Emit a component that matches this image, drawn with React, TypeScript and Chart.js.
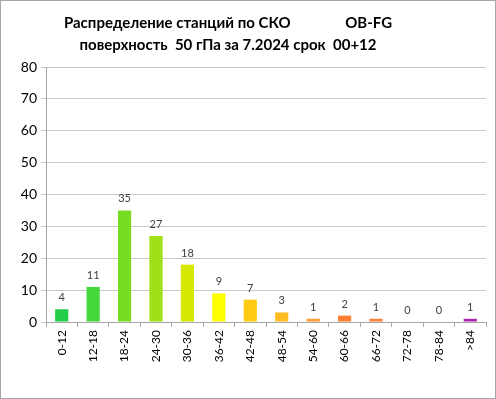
import React, { useEffect, useRef } from "react";
import { Chart, registerables } from "chart.js";

Chart.register(...registerables);

const categories = ["0-12", "12-18", "18-24", "24-30", "30-36", "36-42", "42-48", "48-54", "54-60", "60-66", "66-72", "72-78", "78-84", ">84"];
const counts = [4, 11, 35, 27, 18, 9, 7, 3, 1, 2, 1, 0, 0, 1];
const barColors = ["#22cc44", "#44d63a", "#77dd22", "#a0e016", "#d6e800", "#ffff00", "#ffcc11", "#ffbb22", "#ff9a30", "#ff7f30", "#ff7f30", "#ff7f30", "#ff7f30", "#aa22aa"];
const yTicks = [0, 10, 20, 30, 40, 50, 60, 70, 80];
const titleLines = ["Распределение станций по СКО               OB-FG", "поверхность  50 гПа за 7.2024 срок  00+12"];

const FONT = "Lato, 'Open Sans', sans-serif";

const framePlugin = {
  id: "frame",
  beforeDraw(chart: any) {
    const { ctx, width, height } = chart;
    ctx.save();
    ctx.fillStyle = "#ffffff";
    ctx.fillRect(0, 0, width, height);
    ctx.strokeStyle = "#a6a6a6";
    ctx.lineWidth = 1;
    ctx.strokeRect(0.5, 0.5, width - 1, height - 1);
    ctx.restore();
  },
};

const titlePlugin = {
  id: "customTitle",
  afterDraw(chart: any) {
    const { ctx, width } = chart;
    ctx.save();
    ctx.fillStyle = "#000000";
    ctx.font = `bold 15px ${FONT}`;
    ctx.textAlign = "center";
    ctx.textBaseline = "middle";
    titleLines.forEach((line, i) => {
      ctx.fillText(line, width / 2 - 20, 23 + i * 22);
    });
    ctx.restore();
  },
};

const labelPlugin = {
  id: "barLabels",
  afterDatasetsDraw(chart: any) {
    const { ctx } = chart;
    const meta = chart.getDatasetMeta(0);
    ctx.save();
    ctx.fillStyle = "#404040";
    ctx.font = `11px ${FONT}`;
    ctx.textAlign = "center";
    ctx.textBaseline = "bottom";
    meta.data.forEach((bar: any, i: number) => {
      ctx.fillText(String(counts[i]), bar.x, bar.y - 6);
    });
    ctx.restore();
  },
};

export default function App() {
  const ref = useRef<HTMLCanvasElement | null>(null);
  useEffect(() => {
    document.body.style.margin = "0";
    const chart = new Chart(ref.current as HTMLCanvasElement, {
      type: "bar",
      data: {
        labels: categories,
        datasets: [
          {
            data: counts,
            backgroundColor: barColors,
            borderWidth: 0,
            barPercentage: 0.42,
            categoryPercentage: 1,
          },
        ],
      },
      options: {
        animation: false,
        responsive: false,
        layout: { padding: { left: 0, right: 10, top: 67, bottom: 0 } },
        plugins: {
          legend: { display: false },
          tooltip: { enabled: false },
          title: { display: false },
        },
        scales: {
          x: {
            afterFit(scale: any) {
              scale.height = 77;
            },
            grid: { display: true, offset: true, drawOnChartArea: false, drawTicks: true, tickLength: 5, color: "#a6a6a6" },
            border: { color: "#a6a6a6" },
            ticks: { color: "#000000", font: { family: FONT, size: 12 }, minRotation: 90, maxRotation: 90, autoSkip: false, padding: 3 },
          },
          y: {
            min: 0,
            max: 80,
            afterBuildTicks(scale: any) {
              scale.ticks = yTicks.map((v) => ({ value: v }));
            },
            afterFit(scale: any) {
              scale.width = 46;
            },
            grid: { color: "#c8c8c8", tickLength: 5 },
            border: { color: "#a6a6a6" },
            ticks: { color: "#000000", font: { family: FONT, size: 14 }, padding: 4 },
          },
        },
      },
      plugins: [framePlugin, labelPlugin, titlePlugin],
    });
    return () => chart.destroy();
  }, []);
  return <canvas ref={ref} width={496} height={399} style={{ display: "block" }} />;
}
